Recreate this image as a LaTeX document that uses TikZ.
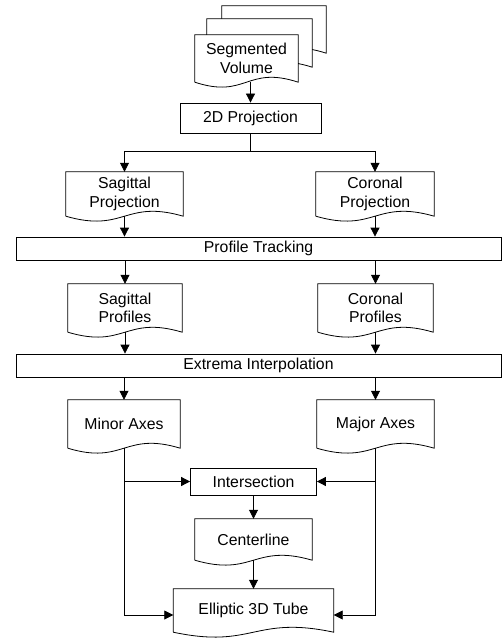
\documentclass[tikz,border=0pt]{standalone}
\usepackage{fontspec}
\setmainfont{Liberation Sans}
\usetikzlibrary{calc,arrows.meta}
\tikzset{
	box/.style={draw, line width=0.8pt, inner sep=0pt, align=center},
	docnode/.style={inner sep=0pt, align=center},
	flow/.style={line width=0.8pt, -{Triangle[length=9pt,width=9pt]}},
}
\def\docshape[#1](#2){\draw[line width=0.8pt,#1] (#2.south west) -- (#2.north west) -- (#2.north east) -- (#2.south east) .. controls ($(#2.south)+(0,-17)$) and ($(#2.south)+(0,17)$) .. (#2.south west);}

\begin{document}
\begin{tikzpicture}[x=1pt, y=-1pt, font=\fontsize{15.8}{18.5}\selectfont]
		%%%%% START %%%%%
		\useasboundingbox (0,0) rectangle (502,639);
		
		\node[docnode, minimum width=104pt, minimum height=47pt] (vol3) at (274, 29.5) {};
		\docshape[fill=white](vol3);
		\node[docnode, minimum width=105pt, minimum height=48pt] (vol2) at (259.5, 43) {};
		\docshape[fill=white](vol2);
		\node[docnode, fill=white, minimum width=103pt, minimum height=47pt] (vol) at (246.5, 58.5) {Segmented\\Volume};
		\docshape[](vol);
		
		\node[box, minimum width=141pt, minimum height=30pt] (proj) at (250.5, 118) {2D Projection};
		
		\node[docnode, minimum width=117pt, minimum height=44pt] (sagproj) at (124.5, 194) {Sagittal\\Projection};
		\docshape[](sagproj);
		\node[docnode, minimum width=118pt, minimum height=44pt] (corproj) at (375, 194) {Coronal\\Projection};
		\docshape[](corproj);
		
		\node[box, minimum width=485pt, minimum height=23pt] (track) at (258.5, 248.5) {Profile Tracking};
		
		\node[docnode, minimum width=114pt, minimum height=48pt] (sagprof) at (125, 308) {Sagittal\\Profiles};
		\docshape[](sagprof);
		\node[docnode, minimum width=115pt, minimum height=48pt] (corprof) at (375.5, 308) {Coronal\\Profiles};
		\docshape[](corprof);
		
		\node[box, minimum width=485pt, minimum height=23pt] (extrema) at (258.5, 365.5) {Extrema Interpolation};
		
		\node[docnode, minimum width=112pt, minimum height=48pt] (minor) at (124, 424) {Minor Axes};
		\docshape[](minor);
		\node[docnode, minimum width=117pt, minimum height=48pt] (major) at (375.5, 424) {Major Axes};
		\docshape[](major);
		
		\node[box, minimum width=126pt, minimum height=27pt] (inter) at (253.5, 481.5) {Intersection};
		
		\node[docnode, minimum width=117pt, minimum height=41pt] (center) at (253.5, 539.5) {Centerline};
		\docshape[](center);
		
		\node[docnode, minimum width=160pt, minimum height=43pt] (tube) at (253.5, 610.5) {Elliptic 3D Tube};
		\docshape[](tube);
		
		% connectors
		\coordinate (split) at (250.5, 151);
		\draw[flow] (proj.north |- vol.south) -- (proj.north);
		\draw[line width=0.8pt] (proj.south) -- (split);
		\draw[flow] (split) -| (sagproj.north);
		\draw[flow] (split) -| (corproj.north);
		
		\draw[flow] (sagproj.south) -- (sagproj.south |- track.north);
		\draw[flow] (corproj.south) -- (corproj.south |- track.north);
		\draw[flow] (sagprof.north |- track.south) -- (sagprof.north);
		\draw[flow] (corprof.north |- track.south) -- (corprof.north);
		
		\draw[flow] (sagprof.south) -- (sagprof.south |- extrema.north);
		\draw[flow] (corprof.south) -- (corprof.south |- extrema.north);
		\draw[flow] (minor.north |- extrema.south) -- (minor.north);
		\draw[flow] (major.north |- extrema.south) -- (major.north);
		
		\draw[flow] (minor.south) |- (inter.west);
		\draw[flow] (major.south) |- (inter.east);
		\draw[flow] (minor.south) |- ([yshift=-4.5pt]tube.west);
		\draw[flow] (major.south) |- ([yshift=-4.5pt]tube.east);
		
		\draw[flow] (inter.south) -- (center.north);
		\draw[flow] (center.south) -- (tube.north);
		%%%%% END %%%%%
\end{tikzpicture}
\end{document}
